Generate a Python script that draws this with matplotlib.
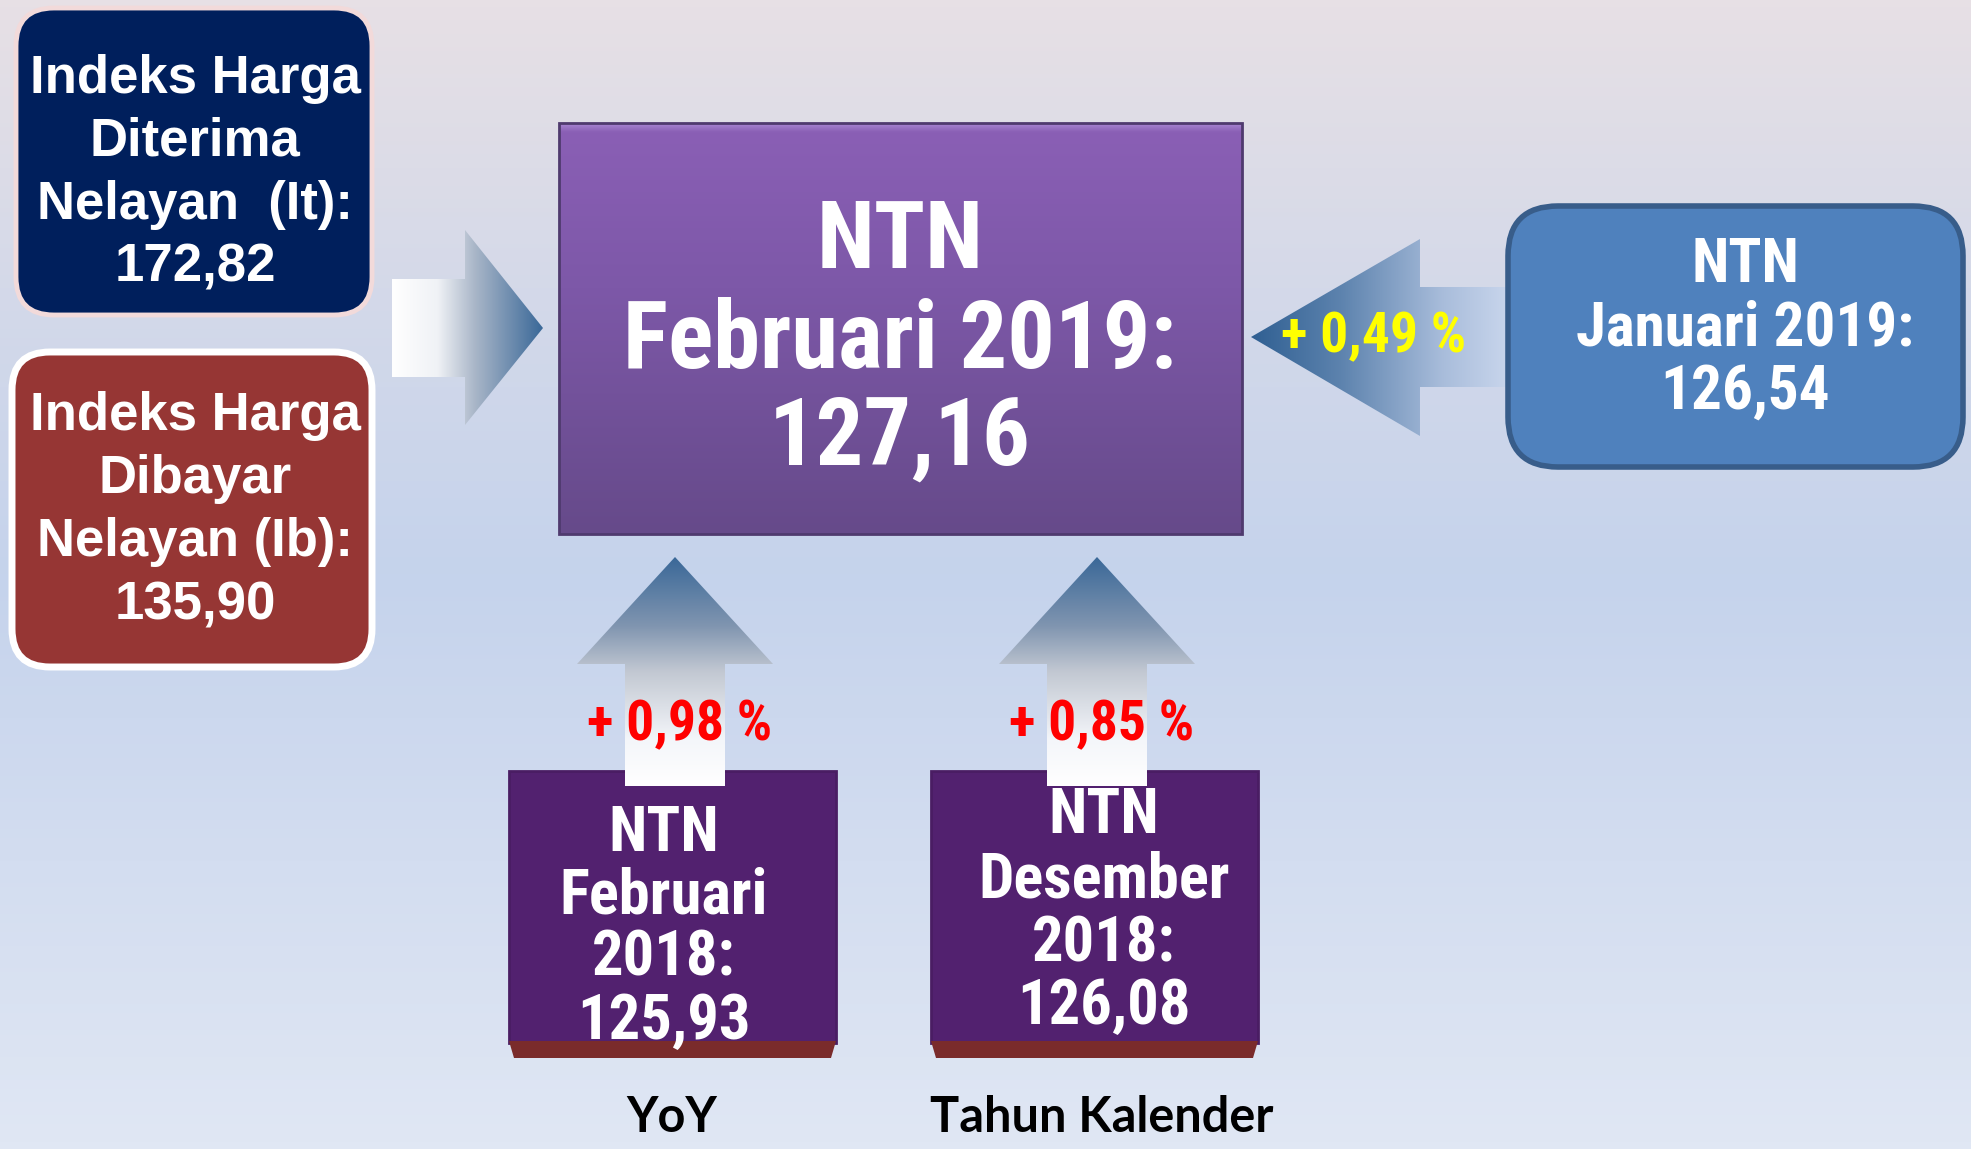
import numpy as np
import matplotlib
matplotlib.use("Agg")
import matplotlib.pyplot as plt
from matplotlib.patches import Polygon, Rectangle, FancyBboxPatch
from matplotlib.colors import LinearSegmentedColormap

# ---------------- data ----------------
index_labels = ["Indeks Harga\nDiterima\nNelayan  (It):", "Indeks Harga\nDibayar\nNelayan (Ib):"]
index_values = [172.82, 135.90]
current_label = "NTN\nFebruari 2019:"
current_value = 127.16
compare_labels = ["NTN\nJanuari 2019:", "NTN\nFebruari\n2018:", "NTN\nDesember\n2018:"]
compare_values = [126.54, 125.93, 126.08]
changes = [0.49, 0.98, 0.85]
captions = ["YoY", "Tahun Kalender"]


def fmt(v):
    return f"{v:.2f}".replace(".", ",")


def pct(v):
    return "+ " + f"{v:.2f}".replace(".", ",") + " %"


W, H = 1971, 1149
fig = plt.figure(figsize=(W / 100, H / 100), dpi=100)
ax = fig.add_axes([0, 0, 1, 1])
ax.axis("off")

NARROW = ["Liberation Sans Narrow", "Roboto Condensed", "Liberation Sans"]
WIDE = ["Liberation Sans", "DejaVu Sans"]
CAP = ["Lato", "Open Sans", "DejaVu Sans"]


def grad(patch, extent, colors, positions, vertical=False, z=2):
    cmap = LinearSegmentedColormap.from_list("g", list(zip(positions, colors)))
    v = np.linspace(0, 1, 256)
    arr = v.reshape(-1, 1) if vertical else v.reshape(1, -1)
    im = ax.imshow(arr, cmap=cmap, extent=extent, aspect="auto",
                   origin="upper", zorder=z, interpolation="bilinear")
    patch.set_transform(ax.transData)
    im.set_clip_path(patch)
    return im


# background
bg = Rectangle((0, 0), W, H)
grad(bg, (0, W, H, 0), ["#e7e0e5", "#d4d9e9", "#c5d3ec", "#d3ddf0", "#e0e7f4"],
     [0, 0.25, 0.5, 0.75, 1], vertical=True, z=0)

# ---------------- left index boxes ----------------
b1 = FancyBboxPatch((16, 8), 356, 307, boxstyle="round,pad=0,rounding_size=38",
                    fc="#001f5c", ec="#f2dada", lw=3.5, zorder=3)
ax.add_patch(b1)
b2 = FancyBboxPatch((12, 352), 360, 315, boxstyle="round,pad=0,rounding_size=38",
                    fc="#963634", ec="white", lw=5, zorder=3)
ax.add_patch(b2)

for (lab, val, ys) in [(index_labels[0], index_values[0], [79, 142, 205, 268]),
                       (index_labels[1], index_values[1], [416, 479, 542, 605])]:
    lines = lab.split("\n") + [fmt(val)]
    for ln, yy in zip(lines, ys):
        ax.text(195, yy, ln, ha="center", va="center", color="white",
                fontsize=38, fontweight="bold", family=WIDE, zorder=5)

# right-pointing arrow (from index boxes)
ra = Polygon([(392, 279), (465, 279), (465, 230), (543, 328), (465, 425),
              (465, 377), (392, 377)], closed=True, fc="none", ec="none")
ax.add_patch(ra)
grad(ra, (392, 543, 425, 230), ["#ffffff", "#f0f2f6", "#a9b6c8", "#3a6898"],
     [0, 0.3, 0.55, 1], z=2)

# ---------------- centre box ----------------
cb = Rectangle((559, 123), 683, 411, fc="none", ec="none")
ax.add_patch(cb)
grad(cb, (559, 1242, 534, 123), ["#a684d0", "#8a5fb5", "#7d58a8", "#664a8a"],
     [0, 0.02, 0.4, 1], vertical=True, z=3)
ax.add_patch(Rectangle((559, 123), 683, 411, fc="none", ec="#4f3a6e", lw=2, zorder=4))
cl = current_label.split("\n") + [fmt(current_value)]
for ln, yy in zip(cl, [242, 342, 439]):
    ax.text(900, yy, ln, ha="center", va="center", color="white",
            fontsize=68, fontweight="bold", family=NARROW, zorder=5)

# ---------------- right box (previous month) ----------------
la = Polygon([(1251, 337), (1420, 239), (1420, 287), (1508, 287), (1508, 387),
              (1420, 387), (1420, 436)], closed=True, fc="none", ec="none")
ax.add_patch(la)
grad(la, (1251, 1508, 436, 239), ["#2f5f92", "#5d83ae", "#a9bddb", "#c8d5ec"],
     [0, 0.35, 0.75, 1], z=2)
ax.text(1374, 337, pct(changes[0]), ha="center", va="center", color="#ffff00",
        fontsize=40, fontweight="bold", family=NARROW, zorder=5)

rb = FancyBboxPatch((1508, 206), 455, 261, boxstyle="round,pad=0,rounding_size=50",
                    fc="#4f81bd", ec="#385d8a", lw=4, zorder=3)
ax.add_patch(rb)
rl = compare_labels[0].split("\n") + [fmt(compare_values[0])]
for ln, yy in zip(rl, [265, 329, 392]):
    ax.text(1745, yy, ln, ha="center", va="center", color="white",
            fontsize=44, fontweight="bold", family=NARROW, zorder=5)

# ---------------- bottom boxes with up arrows ----------------
bottoms = [
    dict(x0=509, x1=836, tip=675, tx=664, ys=[834, 897, 959, 1022]),
    dict(x0=931, x1=1258, tip=1097, tx=1104, ys=[816, 881, 944, 1007]),
]
for i, bdef in enumerate(bottoms):
    x0, x1 = bdef["x0"], bdef["x1"]
    ax.add_patch(Rectangle((x0, 771), x1 - x0, 272, fc="#52216f", ec="#4a1d63",
                           lw=2, zorder=3))
    ax.add_patch(Polygon([(x0, 1041), (x1, 1041), (x1 - 5, 1058), (x0 + 5, 1058)],
                         closed=True, fc="#7a2b2b", ec="none", zorder=3))
    t = bdef["tip"]
    ua = Polygon([(t, 557), (t + 98, 664), (t + 50, 664), (t + 50, 786),
                  (t - 50, 786), (t - 50, 664), (t - 98, 664)],
                 closed=True, fc="none", ec="none")
    ax.add_patch(ua)
    grad(ua, (t - 98, t + 98, 786, 557), ["#3a6898", "#8095b0", "#c2c8d2", "#f4f6fa", "#ffffff"],
         [0, 0.3, 0.5, 0.8, 1], vertical=True, z=4)
    ax.text(t + 5, 725, pct(changes[i + 1]), ha="center", va="center", color="#ff0000",
            fontsize=40, fontweight="bold", family=NARROW, zorder=6)
    lines = compare_labels[i + 1].split("\n") + [fmt(compare_values[i + 1])]
    for ln, yy in zip(lines, bdef["ys"]):
        ax.text(bdef["tx"], yy, ln, ha="center", va="center", color="white",
                fontsize=45, fontweight="bold", family=NARROW, zorder=5)
    ax.text(t - 3 + 8 * i, 1118, captions[i], ha="center", va="center", color="black",
            fontsize=35, fontweight="bold", family=CAP, zorder=5)

ax.set_xlim(0, W)
ax.set_ylim(H, 0)
fig.savefig("out.png", dpi=100)
